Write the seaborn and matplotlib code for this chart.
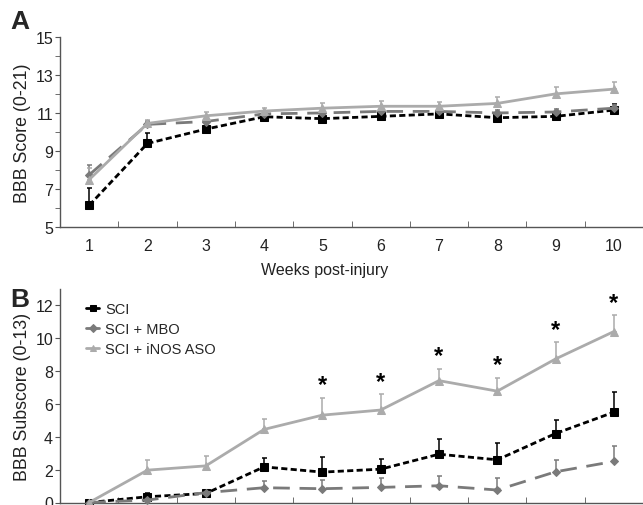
import numpy as np
import pandas as pd
import matplotlib
matplotlib.use("Agg")
import matplotlib.pyplot as plt
import seaborn as sns

# ---- data ----
weeks = [1, 2, 3, 4, 5, 6, 7, 8, 9, 10]
series_names = ["SCI", "SCI + MBO", "SCI + iNOS ASO"]

# Panel A: BBB score (mean and upper SEM)
bbb_sci = [6.15, 9.4, 10.15, 10.8, 10.7, 10.82, 10.95, 10.75, 10.82, 11.15]
bbb_sci_err = [0.9, 0.55, 0.15, 0.15, 0.15, 0.15, 0.15, 0.15, 0.15, 0.3]
bbb_mbo = [7.75, 10.4, 10.55, 10.95, 11.0, 11.08, 11.08, 11.0, 11.05, 11.25]
bbb_mbo_err = [0.5, 0.2, 0.2, 0.15, 0.15, 0.15, 0.15, 0.15, 0.15, 0.15]
bbb_aso = [7.5, 10.45, 10.85, 11.1, 11.25, 11.35, 11.35, 11.5, 12.0, 12.25]
bbb_aso_err = [0.6, 0.2, 0.2, 0.15, 0.25, 0.3, 0.22, 0.33, 0.36, 0.35]

# Panel B: BBB subscore (mean and upper SEM)
sub_sci = [0.0, 0.35, 0.55, 2.17, 1.85, 2.03, 2.94, 2.6, 4.2, 5.5]
sub_sci_err = [0.0, 0.2, 0.1, 0.55, 0.95, 0.6, 0.95, 1.05, 0.85, 1.2]
sub_mbo = [0.0, 0.15, 0.6, 0.9, 0.84, 0.92, 1.02, 0.76, 1.87, 2.5]
sub_mbo_err = [0.0, 0.1, 0.1, 0.4, 0.52, 0.58, 0.6, 0.72, 0.7, 0.95]
sub_aso = [0.0, 1.97, 2.23, 4.45, 5.32, 5.63, 7.42, 6.78, 8.74, 10.41]
sub_aso_err = [0.0, 0.63, 0.61, 0.65, 1.06, 0.95, 0.73, 0.81, 1.01, 1.01]
star_weeks = [5, 6, 7, 8, 9, 10]

sns.set_style("ticks")
plt.rcParams['font.family'] = ['Liberation Sans', 'DejaVu Sans']

styles = {
    "SCI": dict(color="black", marker="s", ms=5.5, dashes=(2.2, 1.2), lw=2.0),
    "SCI + MBO": dict(color="#7a7a7a", marker="D", ms=4.5, dashes=(6, 3.5), lw=2.0),
    "SCI + iNOS ASO": dict(color="#ababab", marker="^", ms=5.5, dashes=None, lw=2.0),
}

fig = plt.figure(figsize=(6.43, 5.06), dpi=100)
axA = fig.add_axes([60 / 643, 1 - 228.3 / 506, 583 / 643, 190.6 / 506])
axB = fig.add_axes([60 / 643, 1 - 503.5 / 506, 583 / 643, 213.5 / 506])


def draw(ax, data):
    for name, (vals, err) in zip(series_names, data):
        st = styles[name]
        df = pd.DataFrame({"week": weeks, "score": vals})
        ax.errorbar(weeks, vals, yerr=[np.zeros(len(err)), err], fmt="none",
                    ecolor=st["color"], elinewidth=1.1, capsize=1.8,
                    capthick=1.1, zorder=2, clip_on=False)
        sns.lineplot(data=df, x="week", y="score", ax=ax, color=st["color"],
                     marker=st["marker"], markersize=st["ms"],
                     markeredgecolor=st["color"], linewidth=st["lw"],
                     label=name, zorder=3, clip_on=False)
        line = ax.lines[-1]
        if st["dashes"] is not None:
            line.set_dashes(st["dashes"])


draw(axA, [(bbb_sci, bbb_sci_err), (bbb_mbo, bbb_mbo_err), (bbb_aso, bbb_aso_err)])
draw(axB, [(sub_sci, sub_sci_err), (sub_mbo, sub_mbo_err), (sub_aso, sub_aso_err)])

spine_col = "#555555"
for ax in (axA, axB):
    sns.despine(ax=ax)
    ax.spines["left"].set_color(spine_col)
    ax.spines["bottom"].set_color(spine_col)
    ax.spines["left"].set_linewidth(1.0)
    ax.spines["bottom"].set_linewidth(1.0)
    ax.set_xlim(0.5, 10.43)
    ax.set_xticks(weeks)
    ax.set_xticks(np.arange(0.5, 11, 1.0), minor=True)
    ax.tick_params(axis="x", which="major", length=0, labelsize=11.5,
                   labelcolor="#222222", pad=8)
    ax.tick_params(axis="x", which="minor", length=4, direction="in",
                   color=spine_col)
    ax.tick_params(axis="y", which="both", length=3.5, direction="out",
                   color=spine_col, labelsize=11.5, labelcolor="#222222", pad=1.5)

# Panel A axes
axA.set_ylim(5, 15)
axA.set_yticks([5, 7, 9, 11, 13, 15])
axA.set_yticks(np.arange(5, 16, 1), minor=True)
axA.set_xlabel("Weeks post-injury", fontsize=11.5, color="#222222")
axA.xaxis.set_label_coords((325 - 60) / 583, -0.18)
axA.set_ylabel("BBB Score (0-21)", fontsize=12.8, color="#222222", labelpad=3)
axA.legend().remove()

# Panel B axes
axB.set_ylim(0, 13)
axB.set_yticks([0, 2, 4, 6, 8, 10, 12])
axB.tick_params(axis="x", labelbottom=False)
axB.set_xlabel("")
axB.set_ylabel("BBB Subscore (0-13)", fontsize=12.8, color="#222222", labelpad=3)

# significance stars above iNOS ASO error bars
for w in star_weeks:
    i = weeks.index(w)
    axB.annotate("*", xy=(w, sub_aso[i] + sub_aso_err[i]), xytext=(0, 1),
                 textcoords="offset points", ha="center", va="bottom",
                 fontsize=17, fontweight="bold", color="black")

handles, labels = axB.get_legend_handles_labels()
leg = axB.legend(handles, labels, loc="upper left", bbox_to_anchor=(0.035, 0.965),
                 frameon=False, fontsize=10.5, handlelength=0.9,
                 handletextpad=0.4, labelspacing=0.4, borderaxespad=0)
for h in leg.legend_handles:
    h.set_linestyle("-")
    h.set_markersize(4)

fig.text(10 / 643, 1 - 22 / 506, "A", fontsize=19, fontweight="bold", va="center", ha="left")
fig.text(10 / 643, 1 - 300 / 506, "B", fontsize=19, fontweight="bold", va="center", ha="left")

fig.savefig("out.png", dpi=100)
